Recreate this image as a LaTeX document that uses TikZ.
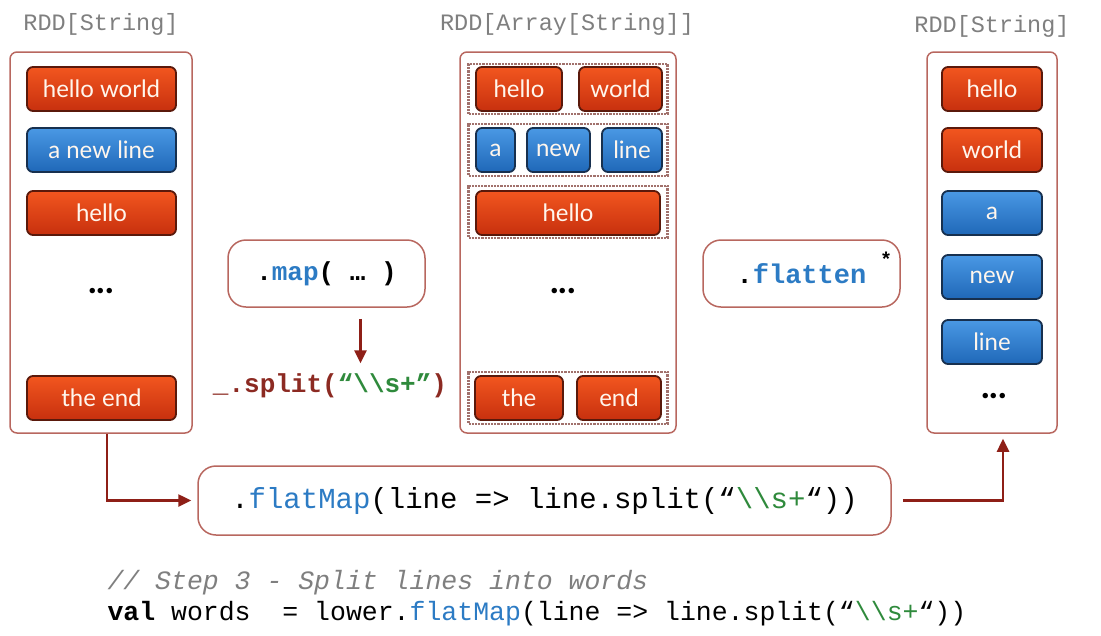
\documentclass[tikz,border=0pt]{standalone}
\usepackage{fontspec}
\setmainfont{Lato}
\newfontfamily\codefont{Liberation Mono}
\usetikzlibrary{arrows.meta}

\definecolor{redtop}{HTML}{F2561F}
\definecolor{redbot}{HTML}{C7300E}
\definecolor{redline}{HTML}{5A190B}
\definecolor{bluetop}{HTML}{4A98E4}
\definecolor{bluebot}{HTML}{1F68B8}
\definecolor{blueline}{HTML}{17304F}
\definecolor{boxline}{HTML}{B8675F}
\definecolor{arrowred}{HTML}{8E1F17}
\definecolor{codeblue}{HTML}{2C7BC4}
\definecolor{codegreen}{HTML}{2F8A3C}
\definecolor{codered}{HTML}{8C2A22}
\definecolor{labelgray}{HTML}{7F7F7F}

\newcommand{\bs}{\textbackslash}

\begin{document}
\begin{tikzpicture}[x=1pt,y=-1pt,
    redbtn/.style={rounded corners=6pt, draw=redline, line width=1.8pt, top color=redtop, bottom color=redbot, text=white!93!orange, minimum height=44pt, inner sep=0pt, font=\fontsize{24}{28}\selectfont},
    bluebtn/.style={redbtn, draw=blueline, top color=bluetop, bottom color=bluebot},
    rddbox/.style={draw=boxline, line width=1.5pt, rounded corners=7pt, minimum height=381pt},
    grpbox/.style={draw=boxline!60!gray, densely dotted, line width=2.2pt, minimum width=199pt},
    opbox/.style={draw=boxline, line width=1.5pt, rounded corners=18pt, fill=white},
    rddlabel/.style={text=labelgray, font=\codefont\fontsize{23.5}{26}\selectfont},
    dots/.style={font=\bfseries\fontsize{36}{40}\selectfont},
    link/.style={draw=arrowred, line width=2.5pt, -{Triangle[length=13pt,width=12pt]}}
    ]
    \useasboundingbox (0,0) rectangle (1101,635);

    \node [rddlabel] (lname) at (101,24) {RDD[String]};
    \node [rddlabel] (mname) at (567,24) {RDD[Array[String]]};
    \node [rddlabel] (rname) at (992,26) {RDD[String]};

    \node [rddbox,minimum width=182pt] (lrdd) at (101,242.5) {};
    \node [rddbox,minimum width=216pt] (mrdd) at (568,242.5) {};
    \node [rddbox,minimum width=130pt] (rrdd) at (992,242.5) {};

    % lines
    \node [redbtn,minimum width=149pt] (l1) at (101.5,89) {hello world};
    \node [bluebtn,minimum width=149pt] (l2) at (101.5,150) {a new line};
    \node [redbtn,minimum width=149pt] (l3) at (101.5,213) {hello};
    \node [dots] (l4) at (101,291) {...};
    \node [redbtn,minimum width=149pt] (l5) at (101.5,398) {the end};

    % arrays of words
    \node [grpbox,minimum height=50pt] (g1) at (568,89) {};
    \node [grpbox,minimum height=52pt] (g2) at (568,150) {};
    \node [grpbox,minimum height=52pt] (g3) at (568,212) {};
    \node [grpbox,minimum height=52pt] (g4) at (568,398) {};
    \node [redbtn,minimum width=86pt] (m1) at (519,89) {hello};
    \node [redbtn,minimum width=83pt] (m2) at (620.5,89) {world};
    \node [bluebtn,minimum width=39pt] (m3) at (495.5,150) {a};
    \node [bluebtn,minimum width=63pt] (m4) at (558.5,150) {new};
    \node [bluebtn,minimum width=60pt] (m5) at (632,150) {line};
    \node [redbtn,minimum width=184pt] (m6) at (568,213) {hello};
    \node [dots] (m7) at (563,291) {...};
    \node [redbtn,minimum width=88pt] (m8) at (519,398) {the};
    \node [redbtn,minimum width=84pt] (m9) at (619,398) {end};

    % words
    \node [redbtn,minimum width=100pt] (r1) at (992,89) {hello};
    \node [redbtn,minimum width=100pt] (r2) at (992,150) {world};
    \node [bluebtn,minimum width=100pt] (r3) at (992,213) {a};
    \node [bluebtn,minimum width=100pt] (r4) at (992,277) {new};
    \node [bluebtn,minimum width=100pt] (r5) at (992,342) {line};
    \node [dots] (r6) at (994,396) {...};

    \node [opbox,minimum width=197pt,minimum height=67pt] (mapop) at (326.5,273.5)
      {\codefont\bfseries\fontsize{26}{28}\selectfont .{\color{codeblue}map}( … )};
    \node [font=\codefont\bfseries\fontsize{26}{28}\selectfont,text=codered] (split) at (330,386)
      {\_.split({\color{codegreen}“\bs\bs s+”})};
    \node [opbox,minimum width=197pt,minimum height=67pt] (flatop) at (801.5,273.5)
      {\codefont\bfseries\fontsize{27}{28}\selectfont .{\color{codeblue}flatten}\hspace{12pt}};
    \node [font=\codefont\bfseries\fontsize{20}{22}\selectfont] (star) at (886,259) {*};
    \node [opbox,minimum width=693pt,minimum height=69pt] (flatmap) at (544.5,500.5)
      {\codefont\fontsize{29}{30}\selectfont .{\color{codeblue}flatMap}(line => line.split(“{\color{codegreen}\bs\bs s+}“))};

    \draw [link,shorten <=11pt,shorten >=7pt] ([xshift=34pt]mapop.south) -- ([xshift=34pt]mapop.south |- split.north);
    \draw [link,shorten >=6pt] ([xshift=6pt]lrdd.south) |- (flatmap.west);
    \draw [link,shorten <=11pt,shorten >=5pt] (flatmap.east) -| ([xshift=11pt]rrdd.south);

    \node [anchor=west,font=\codefont\itshape\fontsize{26.5}{28}\selectfont,text=labelgray] (comment) at (104,583)
      {// Step 3 - Split lines into words};
    \node [anchor=west,font=\codefont\fontsize{26.5}{28}\selectfont] (code) at (104,614)
      {\textbf{val} words\ \ = lower.{\color{codeblue}flatMap}(line => line.split(“{\color{codegreen}\bs\bs s+}“))};
\end{tikzpicture}
\end{document}
